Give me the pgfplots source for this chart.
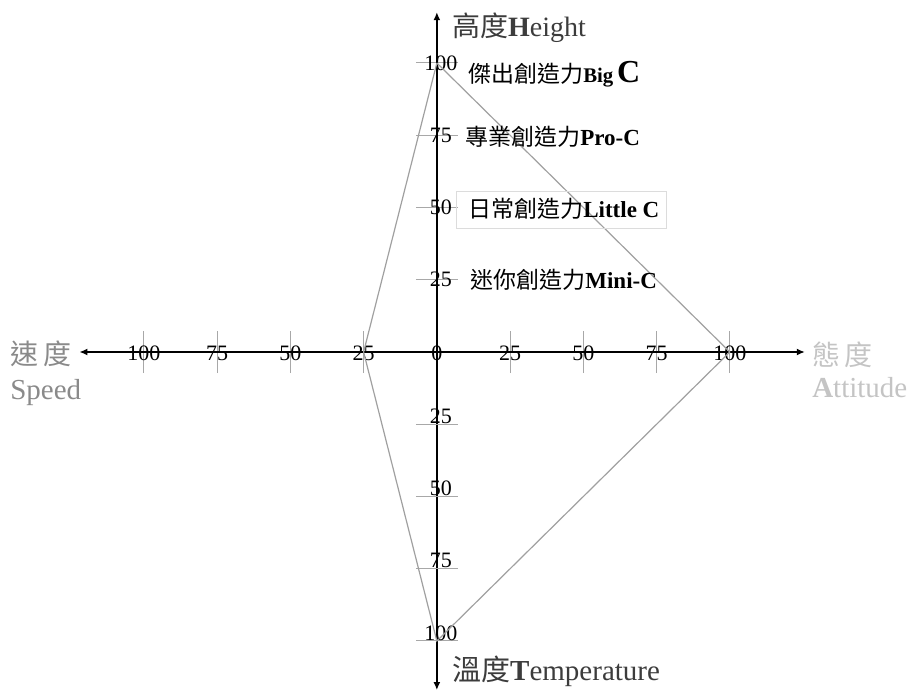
\documentclass[border=0pt]{standalone}
\usepackage{fontspec}
\setmainfont{Liberation Serif}
\newfontfamily\cjk{Noto Sans CJK TC}
\usepackage{pgfplots}
\pgfplotsset{compat=1.18}
\usetikzlibrary{arrows.meta}

\definecolor{poly}{HTML}{A0A0A0}
\definecolor{tickgray}{HTML}{A8A8A8}
\definecolor{speedgray}{HTML}{8A8A8A}
\definecolor{attgray}{HTML}{C4C4C4}
\definecolor{tempgray}{HTML}{3C3C3C}

\begin{document}
\begin{tikzpicture}
\begin{axis}[
  scale only axis,
  x=1.465pt, y=1.445pt,
  xmin=-122, xmax=125.6, ymin=-117, ymax=117.6,
  axis lines=middle,
  axis line style={black, line width=0.9pt, {Latex[length=4pt,width=3.5pt]}-{Latex[length=4pt,width=3.5pt]}},
  hide obscured x ticks=false, hide obscured y ticks=false,
  xtick={-100,-75,-50,-25,0,25,50,75,100},
  xticklabels={100,75,50,25,0,25,50,75,100},
  ytick={25,50,75,100},
  yticklabels={25,50,75,100},
  extra y ticks={-25,-50,-75,-100},
  extra y tick labels={25,50,75,100},
  extra y tick style={yticklabel style={yshift=4pt}},
  tick align=center,
  major tick length=21pt,
  tick style={tickgray, line width=0.5pt},
  xticklabel style={anchor=center, inner sep=0pt, yshift=10pt},
  yticklabel style={anchor=center, inner sep=0pt, xshift=12.5pt},
  tick label style={font=\fontsize{11}{12}\selectfont, text=black},
  /pgf/number format/assume math mode=true,
  clip=false,
]
\addplot[poly, line width=0.6pt] coordinates
  {(0,100) (100,0) (0,-100) (-25,0) (0,100)};

\path (axis cs:-149.1,-119) rectangle (axis cs:160.8,121.8);

\draw[attgray!60, line width=0.5pt] (axis cs:6.8,42.9) rectangle (axis cs:78.5,55.4);

\node[anchor=base west, inner sep=0pt, text=tempgray] at (axis cs:5.1,109)
  {\fontsize{14}{16}\selectfont{\cjk 高度}\textbf{H}eight};
\node[anchor=base west, inner sep=0pt] at (axis cs:10.6,93.4)
  {\fontsize{11.5}{13}\selectfont{\cjk 傑出創造力}\textbf{\fontsize{10.4}{12}\selectfont Big}\,\textbf{\fontsize{16}{18}\selectfont C}};
\node[anchor=base west, inner sep=0pt] at (axis cs:9.6,71.6)
  {\fontsize{11.5}{13}\selectfont{\cjk 專業創造力}\textbf{Pro-C}};
\node[anchor=base west, inner sep=0pt] at (axis cs:10.6,46.4)
  {\fontsize{11.5}{13}\selectfont{\cjk 日常創造力}\textbf{Little C}};
\node[anchor=base west, inner sep=0pt] at (axis cs:11.3,22.1)
  {\fontsize{11.5}{13}\selectfont{\cjk 迷你創造力}\textbf{Mini-C}};

\node[anchor=base west, inner sep=0pt, text=speedgray] at (axis cs:-145.7,-4.2)
  {\fontsize{14}{16}\selectfont{\cjk 速\,度}};
\node[anchor=base west, inner sep=0pt, text=speedgray] at (axis cs:-145.7,-16.6)
  {\fontsize{14.5}{16}\selectfont Speed};
\node[anchor=base west, inner sep=0pt, text=attgray] at (axis cs:128,-4.5)
  {\fontsize{14}{16}\selectfont{\cjk 態\,度}};
\node[anchor=base west, inner sep=0pt, text=attgray] at (axis cs:128,-15.9)
  {\fontsize{14.5}{16}\selectfont\textbf{A}ttitude};
\node[anchor=base west, inner sep=0pt, text=tempgray] at (axis cs:5.1,-113.5)
  {\fontsize{14.5}{16}\selectfont{\cjk 溫度}\textbf{T}emperature};
\end{axis}
\end{tikzpicture}
\end{document}
